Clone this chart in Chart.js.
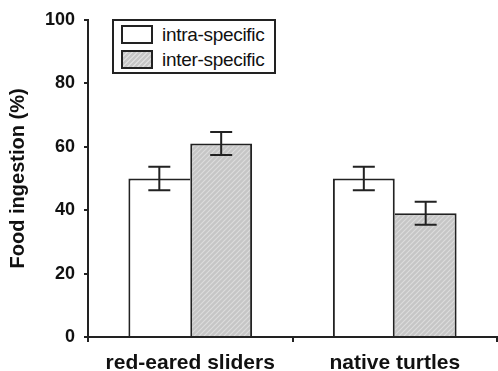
<!DOCTYPE html>
<html>
<head>
<meta charset="utf-8">
<script src="https://cdn.jsdelivr.net/npm/chart.js@4"></script>
<style>
  body { margin: 0; background: #fff; }
  #wrap { position: relative; width: 498px; height: 371px; }
  #legende {
    position: absolute; left: 112px; top: 19px; width: 160px; height: 51px;
    border: 2px solid #222; background: #fff;
    font-family: "Liberation Sans", Arial, sans-serif; font-size: 19px; color: #111;
  }
  .item { position: absolute; left: 7px; height: 19px; line-height: 19px; }
  .item .cx { position: absolute; left: 0; top: 0; width: 28px; height: 15px; border: 2px solid #222; }
  .item span { position: absolute; left: 41px; top: 0; white-space: nowrap; letter-spacing: -0.3px; }
</style>
</head>
<body>
<div id="wrap">
  <canvas id="grafico" width="498" height="371"></canvas>
  <div id="legende"></div>
</div>
<script>
// ===== DADOS =====
const categorias = ['red-eared sliders', 'native turtles'];
const series = ['intra-specific', 'inter-specific'];
const valoresIntra = [50, 50];
const valoresInter = [61, 39];
const errosIntra = [3.7, 3.7];
const errosInter = [3.6, 3.6];
const ticksY = [0, 20, 40, 60, 80, 100];

// ===== PADRÃO HACHURADO =====
function criarHachura() {
  const c = document.createElement('canvas');
  c.width = 5; c.height = 5;
  const g = c.getContext('2d');
  g.fillStyle = '#c6c6c6';
  g.fillRect(0, 0, 5, 5);
  g.strokeStyle = '#dcdcdc';
  g.lineWidth = 1.2;
  g.beginPath();
  g.moveTo(-1, 6); g.lineTo(6, -1);
  g.moveTo(-1, 1); g.lineTo(1, -1);
  g.moveTo(4, 6); g.lineTo(6, 4);
  g.stroke();
  return g.createPattern(c, 'repeat');
}
const hachura = criarHachura();

const valores = [valoresIntra, valoresInter];
const erros = [errosIntra, errosInter];

// borda compartilhada: só a barra mais alta desenha a linha do meio
function larguraBorda(ctx) {
  const ds = ctx.datasetIndex, i = ctx.dataIndex;
  const meu = valores[ds][i], outro = valores[1 - ds][i];
  const b = { top: 2, left: 2, right: 2, bottom: 0 };
  if (meu < outro) {
    if (ds === 0) b.right = 0; else b.left = 0;
  }
  return b;
}

// ===== BARRAS DE ERRO =====
const barrasErro = {
  id: 'barrasErro',
  afterDatasetsDraw(chart) {
    const g = chart.ctx, y = chart.scales.y;
    g.save();
    g.strokeStyle = '#222';
    g.lineWidth = 2;
    chart.data.datasets.forEach((ds, d) => {
      chart.getDatasetMeta(d).data.forEach((bar, i) => {
        const v = ds.data[i], e = erros[d][i];
        const yt = y.getPixelForValue(v + e), yb = y.getPixelForValue(v - e);
        g.beginPath();
        g.moveTo(bar.x, yt); g.lineTo(bar.x, yb);
        g.moveTo(bar.x - 11, yt); g.lineTo(bar.x + 11, yt);
        g.moveTo(bar.x - 11, yb); g.lineTo(bar.x + 11, yb);
        g.stroke();
      });
    });
    g.restore();
  }
};

const fonte = '"Liberation Sans", Arial, sans-serif';

const grafico = new Chart(document.getElementById('grafico'), {
  type: 'bar',
  data: {
    labels: categorias,
    datasets: [
      { label: series[0], data: valoresIntra, backgroundColor: '#ffffff', borderColor: '#222', borderWidth: larguraBorda, borderSkipped: false },
      { label: series[1], data: valoresInter, backgroundColor: hachura, borderColor: '#222', borderWidth: larguraBorda, borderSkipped: false }
    ]
  },
  options: {
    responsive: false,
    animation: false,
    layout: { padding: { top: 19, right: 1, left: 0, bottom: 0 } },
    plugins: { legend: { display: false }, tooltip: { enabled: false } },
    datasets: { bar: { barPercentage: 1, categoryPercentage: 0.605 } },
    scales: {
      x: {
        grid: { drawOnChartArea: false, tickLength: 5, color: '#222', lineWidth: 2 },
        border: { color: '#222', width: 2 },
        ticks: { color: '#111', font: { family: fonte, size: 21, weight: 'bold' }, padding: 9 },
        afterFit(s) { s.height = 34; }
      },
      y: {
        min: 0, max: 100,
        afterBuildTicks(s) { s.ticks = ticksY.map(v => ({ value: v })); },
        grid: { drawOnChartArea: false, tickLength: 4, color: '#222', lineWidth: 2 },
        border: { color: '#222', width: 2 },
        ticks: { color: '#111', font: { family: fonte, size: 18, weight: 'bold' }, padding: 9 },
        title: { display: true, text: 'Food ingestion (%)', color: '#111', font: { family: fonte, size: 20, weight: 'bold' }, padding: { top: 6, bottom: 0 } },
        afterFit(s) { s.width = 88; }
      }
    }
  },
  plugins: [barrasErro]
});

// ===== LEGENDA =====
const legende = document.getElementById('legende');
grafico.data.datasets.forEach((ds, i) => {
  const item = document.createElement('div');
  item.className = 'item';
  item.style.top = (4 + i * 25) + 'px';
  const cx = document.createElement('div');
  cx.className = 'cx';
  cx.style.background = i === 0 ? '#fff'
    : 'repeating-linear-gradient(-45deg, #c6c6c6 0 2px, #dcdcdc 2px 3.5px)';
  const txt = document.createElement('span');
  txt.textContent = ds.label;
  item.appendChild(cx);
  item.appendChild(txt);
  legende.appendChild(item);
});
</script>
</body>
</html>
